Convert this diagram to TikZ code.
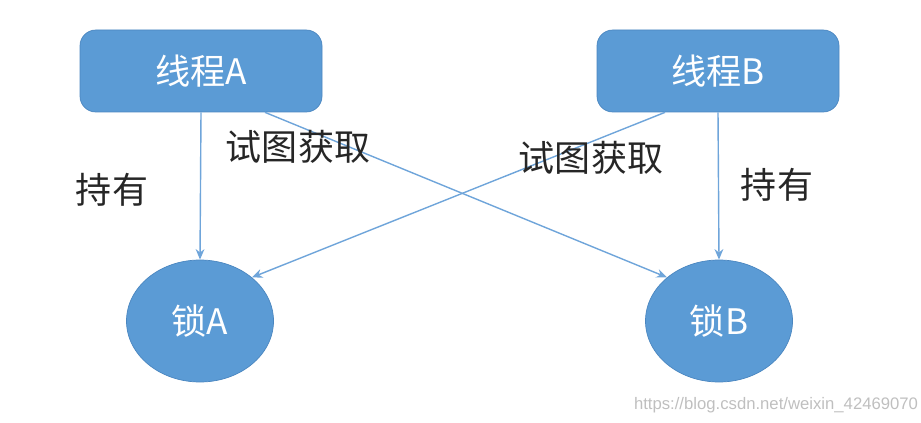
\documentclass[tikz,border=0pt]{standalone}
\usepackage{fontspec}
\newfontfamily\cjk{Noto Sans CJK SC}
\newfontfamily\wmfont{Liberation Sans}
\usetikzlibrary{arrows.meta,shapes.geometric}
\definecolor{boxblue}{HTML}{5B9BD5}
\definecolor{edgeblue}{HTML}{4A86C0}
\definecolor{lineblue}{HTML}{6FA5DA}

\begin{document}
\begin{tikzpicture}[
    thread/.style={draw=edgeblue, fill=boxblue, rounded corners=9pt, minimum width=4.84cm, minimum height=1.64cm, text=white, font=\cjk\fontsize{20}{24}\selectfont},
    lock/.style={ellipse, draw=edgeblue, fill=boxblue, minimum width=2.94cm, minimum height=2.44cm, inner sep=0pt, text=white, font=\cjk\fontsize{20}{24}\selectfont},
    larrow/.style={-{Stealth[length=6pt,width=5pt]}, line width=0.8pt, color=lineblue},
    lbl/.style={font=\cjk\fontsize{20.5}{24}\selectfont, text=black!85}
]
\useasboundingbox (0,0) rectangle (18.42,-8.46);

\node[thread] (thA) at (4.02,-1.42) {线程A};
\node[thread] (thB) at (14.36,-1.42) {线程B};
\node[lock] (lockA) at (4.00,-6.42) {锁A};
\node[lock] (lockB) at (14.38,-6.42) {锁B};

% holding
\draw[larrow] (thA.south) -- (lockA.north);
\draw[larrow] (thB.south) -- (lockB.north);
% trying to acquire
\draw[larrow] ([xshift=1.28cm]thA.south) -- (lockB.140);
\draw[larrow] ([xshift=-1.06cm]thB.south) -- (lockA.40);

\node[lbl] (holdA) at (2.24,-3.8) {持有};
\node[lbl] (holdB) at (15.54,-3.7) {持有};
\node[lbl] (tryA) at (5.96,-2.94) {试图获取};
\node[lbl] (tryB) at (11.82,-3.16) {试图获取};

\node[font=\wmfont\fontsize{9.5}{11}\selectfont, text=black!25] (mark) at (15.52,-8.1) {https://blog.csdn.net/weixin\_42469070};

\end{tikzpicture}
\end{document}
